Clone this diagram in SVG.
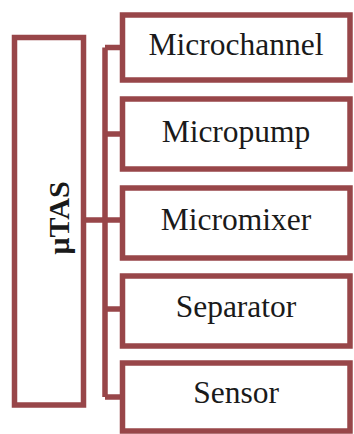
<svg xmlns="http://www.w3.org/2000/svg" width="354" height="434" viewBox="0 0 354 434">
<style>
.box{fill:#fff;stroke:#984649;stroke-width:5.5}
.con{fill:none;stroke:#984649;stroke-width:5.5}
.lbl{font-family:"Liberation Serif","Times New Roman",serif;font-size:31.5px;fill:#1a1a1a;text-anchor:middle}
.main{font-family:"Liberation Serif","Times New Roman",serif;font-size:30px;font-weight:bold;fill:#1a1a1a;text-anchor:middle}
</style>
<rect width="354" height="434" fill="#fff"/>
<g id="connectors">
<path class="con" d="M83 220H105M105 47.5V397M105 47.5H122M105 134H122M105 220H122M105 309H122M105 397H122"/>
</g>
<g id="utas">
<rect class="box" x="14.5" y="37.5" width="69" height="367.5"/>
<text class="main" transform="translate(69,218) rotate(-90)">μTAS</text>
</g>
<g id="microchannel">
<rect class="box" x="122.5" y="15" width="227.5" height="65"/>
<text class="lbl" x="236" y="55">Microchannel</text>
</g>
<g id="micropump">
<rect class="box" x="122.5" y="99" width="227.5" height="70"/>
<text class="lbl" x="236" y="142">Micropump</text>
</g>
<g id="micromixer">
<rect class="box" x="122.5" y="188" width="227.5" height="70"/>
<text class="lbl" x="236" y="230">Micromixer</text>
</g>
<g id="separator">
<rect class="box" x="122.5" y="276" width="227.5" height="70"/>
<text class="lbl" x="236" y="317">Separator</text>
</g>
<g id="sensor">
<rect class="box" x="122.5" y="363" width="227.5" height="68"/>
<text class="lbl" x="236" y="403">Sensor</text>
</g>
</svg>
